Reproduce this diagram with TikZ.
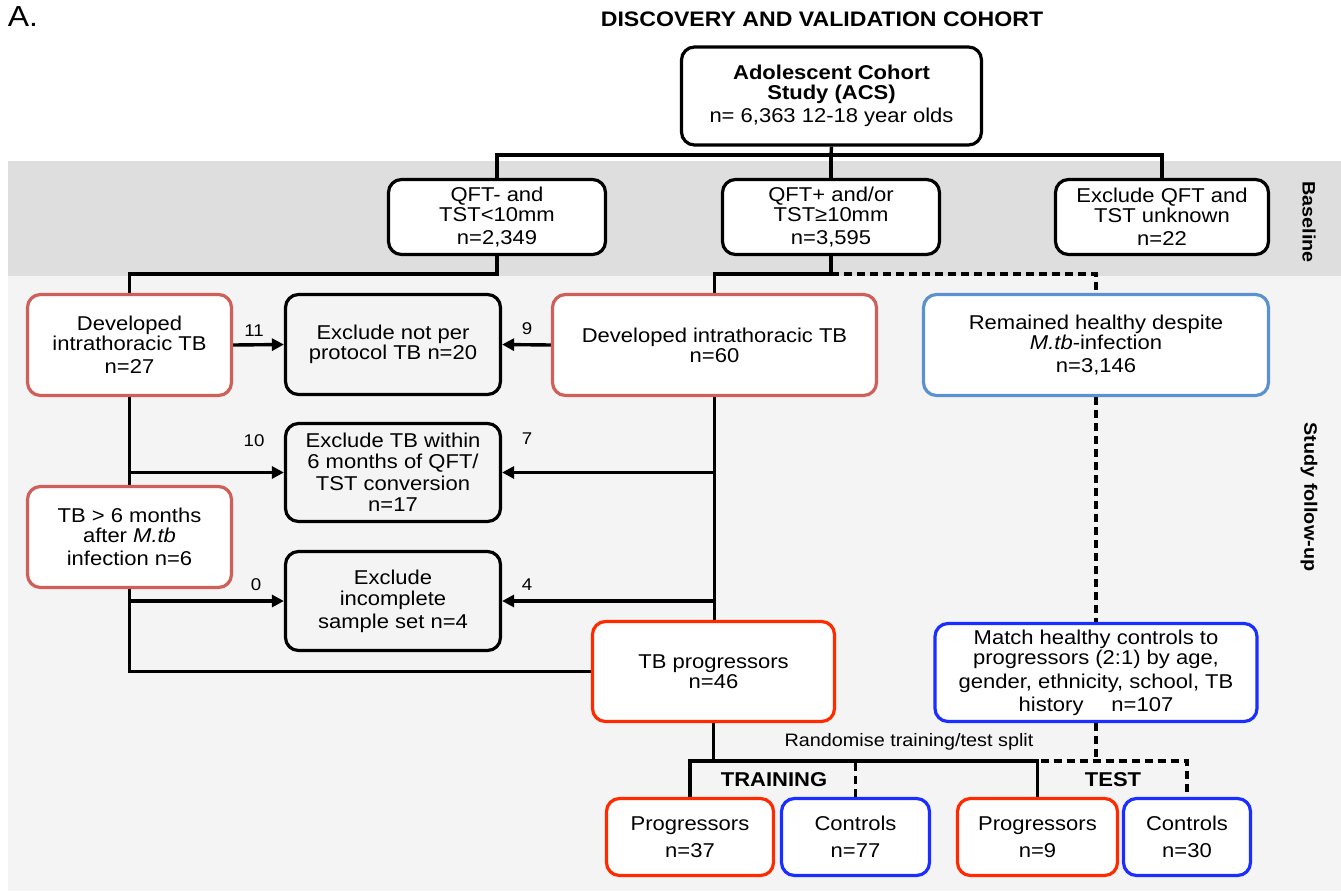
\documentclass[tikz,border=0pt]{standalone}
\usepackage{fontspec}
\setmainfont{Liberation Sans}[FakeStretch=1.1]
\usetikzlibrary{arrows.meta}
\pgfdeclarelayer{back}
\pgfdeclarelayer{lines}
\pgfsetlayers{back,lines,main}
\definecolor{bandA}{HTML}{DEDEDE}
\definecolor{bandB}{HTML}{F4F4F4}
\definecolor{mred}{HTML}{CF5F58}
\definecolor{mblue}{HTML}{5B91CF}
\definecolor{bred}{HTML}{FF2A00}
\definecolor{bblue}{HTML}{1A2EFF}
\tikzset{
  box/.style={draw=black, line width=3.2pt, rounded corners=13pt, fill=white, align=center, inner sep=0pt, font=\fontsize{20}{20}\selectfont},
  greybox/.style={box, fill=bandB},
  mredbox/.style={box, draw=mred},
  mbluebox/.style={box, draw=mblue},
  bredbox/.style={box, draw=bred},
  bbluebox/.style={box, draw=bblue},
  conn/.style={line width=3.4pt},
  arr/.style={conn, -{Triangle[length=12pt,width=12pt]}},
  dashconn/.style={conn, dash pattern=on 8pt off 5pt},
  num/.style={font=\fontsize{17}{17}\selectfont, inner sep=0pt},
  side/.style={font=\fontsize{18}{18}\selectfont\bfseries, rotate=-90, inner sep=0pt},
}
\begin{document}
\begin{tikzpicture}[x=1pt,y=-1pt]
\useasboundingbox (0,0) rectangle (1341,894);
\begin{pgfonlayer}{back}
  \fill[white] (0,0) rectangle (1341,894);
  \fill[bandA] (8,161) rectangle (1341,276);
  \fill[bandB] (8,276) rectangle (1341,891);
\end{pgfonlayer}

\node[inner sep=0pt, font=\fontsize{29}{29}\selectfont] (lblA) at (23,17) {A.};
\node[inner sep=0pt, font=\fontsize{21}{21}\selectfont\bfseries] (title) at (822,19) {DISCOVERY AND VALIDATION COHORT};
\node[side] (sideB) at (1309,222) {Baseline};
\node[side] (sideF) at (1309,497) {Study follow-up};

\node[box, minimum width=300pt, minimum height=98pt] (acs) at (831.5,96)
  {\bfseries Adolescent Cohort\\\bfseries Study (ACS)\\[3pt]n= 6,363 12-18 year olds};

\node[box, minimum width=217pt, minimum height=75pt] (qm) at (497,217) {QFT- and\\TST<10mm\\[3pt]n=2,349};
\node[box, minimum width=217pt, minimum height=75pt] (qp) at (831,217) {QFT+ and/or\\TST≥10mm\\[3pt]n=3,595};
\node[box, minimum width=213pt, minimum height=75pt] (ex) at (1162,217) {Exclude QFT and\\TST unknown\\[3pt]n=22};

\node[mredbox, minimum width=204pt, minimum height=101pt] (d27) at (129.5,345) {Developed\\intrathoracic TB\\[3pt]n=27};
\node[greybox, minimum width=215pt, minimum height=100pt] (exnp) at (393,344.5) {Exclude not per\\protocol TB n=20};
\node[mredbox, minimum width=324pt, minimum height=101pt] (d60) at (714.5,345) {Developed intrathoracic TB\\n=60};
\node[mbluebox, minimum width=345pt, minimum height=101pt] (rh) at (1096,345) {Remained healthy despite\\\textit{M.tb}-infection\\[3pt]n=3,146};

\node[greybox, minimum width=215pt, minimum height=98pt] (ex6) at (393,472.5) {Exclude TB within\\[1pt]6 months of QFT/\\[2pt]TST conversion\\[1pt]n=17};
\node[mredbox, minimum width=204pt, minimum height=101pt] (tb6) at (129.5,537) {TB > 6 months\\after \textit{M.tb}\\[3pt]infection n=6};
\node[greybox, minimum width=215pt, minimum height=99pt] (exinc) at (393,601) {Exclude\\[1pt]incomplete\\[3pt]sample set n=4};

\node[bredbox, minimum width=242pt, minimum height=100pt] (prog) at (713.5,671.5) {TB progressors\\n=46};
\node[bbluebox, minimum width=322pt, minimum height=98pt] (match) at (1096,672.5)
  {Match healthy controls to\\progressors (2:1) by age,\\[4pt]gender, ethnicity, school, TB\\[3pt]history\hspace{1.4em}n=107};

\node[bredbox, minimum width=167pt, minimum height=77pt] (ptr) at (690,837) {Progressors\\[7pt]n=37};
\node[bbluebox, minimum width=148pt, minimum height=77pt] (ctr) at (855.5,837) {Controls\\[7pt]n=77};
\node[bredbox, minimum width=160pt, minimum height=77pt] (pte) at (1037.5,837) {Progressors\\[7pt]n=9};
\node[bbluebox, minimum width=127pt, minimum height=77pt] (cte) at (1187,837) {Controls\\[7pt]n=30};

\node[inner sep=0pt, font=\fontsize{20}{20}\selectfont\bfseries] (trn) at (774,780) {TRAINING};
\node[inner sep=0pt, font=\fontsize{20}{20}\selectfont\bfseries] (tst) at (1113,780) {TEST};
\node[inner sep=0pt, font=\fontsize{18}{18}\selectfont] (rnd) at (909,742) {Randomise training/test split};

\node[num] (n11) at (254,331) {11};
\node[num] (n9) at (527,329) {9};
\node[num] (n10) at (254,441) {10};
\node[num] (n7) at (527,439) {7};
\node[num] (n0) at (256,585) {0};
\node[num] (n4) at (527,585) {4};

\coordinate (j1) at (831,155);
\begin{pgfonlayer}{lines}
  \draw[conn] (acs.south) -- (j1);
  \draw[conn] (qm.north) |- (j1) -| (ex.north);
  \draw[conn] (qp.north) -- (j1);
  \draw[conn] (qm.south) -- ++(0,18) -| (d27.north);
  \draw[conn] (qp.south) -- ++(0,18) coordinate (j2) -| (d60.north);
  \draw[dashconn] (j2) -| (rh.north);
  \draw[conn] (d27.south) |- (prog.west);
  \draw[arr] (d27.east) -- (exnp.west);
  \draw[arr] (d27.south |- ex6.west) -- (ex6.west);
  \draw[arr] (d27.south |- exinc.west) -- (exinc.west);
  \draw[conn] (d60.south) -- (d60.south |- prog.north);
  \draw[arr] (d60.west) -- (exnp.east);
  \draw[arr] (d60.south |- ex6.east) -- (ex6.east);
  \draw[arr] (d60.south |- exinc.east) -- (exinc.east);
  \draw[dashconn] (rh.south) -- (match.north);
  \coordinate (j3) at (713.5,761);
  \draw[conn] (prog.south) -- (prog.south |- j3);
  \draw[conn] (ptr.north) |- (pte.north |- j3) -- (pte.north);
  \draw[dashconn] (match.south) -- (match.south |- j3);
  \draw[dashconn] (ctr.north) |- (cte.north |- j3) -- (cte.north);
\end{pgfonlayer}
\end{tikzpicture}
\end{document}
